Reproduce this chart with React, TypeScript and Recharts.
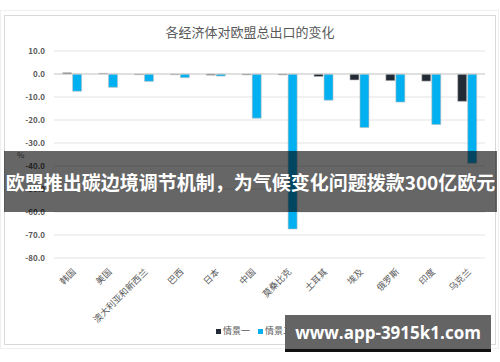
import React from 'react';
import { BarChart, Bar, XAxis, YAxis, CartesianGrid, ReferenceLine } from 'recharts';

const categories = ['韩国', '美国', '澳大利亚和新西兰', '巴西', '日本', '中国', '莫桑比克', '土耳其', '埃及', '俄罗斯', '印度', '乌克兰'];
const scenarioOne = [0.5, 0.3, -0.3, -0.3, -0.5, -0.4, -0.4, -1.1, -2.6, -2.9, -3.1, -11.9];
const scenarioTwo = [-7.5, -5.8, -3.2, -1.6, -0.9, -19.2, -67.4, -11.4, -23.3, -12.2, -22.0, -38.8];
const yTicks = [10, 0, -10, -20, -30, -40, -50, -60, -70, -80];
const seriesNames = ['情景一', '情景二'];

const chartData = categories.map((name, i) => ({
  name,
  s1: scenarioOne[i],
  s2: scenarioTwo[i],
}));

const FONT = '"Noto Sans CJK SC", "Noto Sans", sans-serif';
const TEXT = '#595959';

const XTick = (props: any) => {
  const { x, y, payload } = props;
  return (
    <g transform={`translate(${x + 2},${y + 4})`}>
      <text transform="rotate(-45)" textAnchor="end" dominantBaseline="central" fontSize={9} fill={TEXT} fontFamily={FONT}>
        {payload.value}
      </text>
    </g>
  );
};

export default function App() {
  return (
    <div style={{ position: 'absolute', left: 0, top: 0, width: 500, height: 362, background: '#fff', fontFamily: FONT, overflow: 'hidden' }}>
      {/* frames */}
      <div style={{ position: 'absolute', left: 0, top: 10, width: 499, height: 339, border: '1px solid #efefef', boxSizing: 'border-box' }} />
      <div style={{ position: 'absolute', left: 4, top: 15, width: 492, height: 330, border: '1px solid #d9d9d9', boxSizing: 'border-box' }} />

      <div style={{ position: 'absolute', left: 0, top: 23, width: 500, textAlign: 'center', fontSize: 13, color: TEXT, lineHeight: '18px' }}>
        各经济体对欧盟总出口的变化
      </div>
      <div style={{ position: 'absolute', left: 17, top: 149, fontSize: 8, color: TEXT }}>%</div>

      <div style={{ position: 'absolute', left: 0, top: 0 }}>
        <BarChart
          width={500}
          height={362}
          data={chartData}
          margin={{ top: 51, right: 15, bottom: 0, left: 0 }}
          barCategoryGap="24%"
          barGap={1}
        >
          <CartesianGrid vertical={false} stroke="#e3e3e3" />
          <XAxis dataKey="name" axisLine={false} tickLine={false} interval={0} height={104} tick={<XTick />} />
          <YAxis
            width={54}
            domain={[-80, 10]}
            ticks={yTicks}
            interval={0}
            axisLine={false}
            tickLine={false}
            tickMargin={3}
            tickFormatter={(v: number) => v.toFixed(1)}
            tick={{ fontSize: 8, fill: TEXT, fontFamily: FONT, fontWeight: 700 }}
          />
          <ReferenceLine y={0} stroke="#cfcfcf" />
          <Bar dataKey="s1" name={seriesNames[0]} fill="#222a35" stroke="#bfbfbf" strokeWidth={0.6} isAnimationActive={false} />
          <Bar dataKey="s2" name={seriesNames[1]} fill="#00b0f0" stroke="#bfbfbf" strokeWidth={0.6} isAnimationActive={false} />
        </BarChart>
      </div>

      {/* legend */}
      <div style={{ position: 'absolute', left: 216, top: 325, display: 'flex', gap: 8, fontSize: 9, color: TEXT, lineHeight: '12px' }}>
        {seriesNames.map((n, i) => (
          <span key={n} style={{ display: 'flex', alignItems: 'center' }}>
            <span style={{ width: 5, height: 5, background: i === 0 ? '#222a35' : '#00b0f0', marginRight: 2 }} />
            {n}
          </span>
        ))}
      </div>

      {/* banner overlay */}
      <div style={{ position: 'absolute', left: 4, top: 151, width: 493, height: 61, background: 'rgba(0,0,0,0.6)', color: '#fff', fontWeight: 700, fontSize: 19, display: 'flex', alignItems: 'center', justifyContent: 'center', whiteSpace: 'nowrap' }}>
        欧盟推出碳边境调节机制，为气候变化问题拨款300亿欧元
      </div>

      {/* watermark */}
      <div style={{ position: 'absolute', left: 285, top: 315, width: 206, height: 37, background: '#646464', borderBottom: '3px solid #111', boxSizing: 'border-box', color: '#fff', fontWeight: 700, fontSize: 17, display: 'flex', alignItems: 'center', justifyContent: 'center', fontFamily: '"Open Sans", "DejaVu Sans", sans-serif' }}>
        www.app-3915k1.com
      </div>
    </div>
  );
}
